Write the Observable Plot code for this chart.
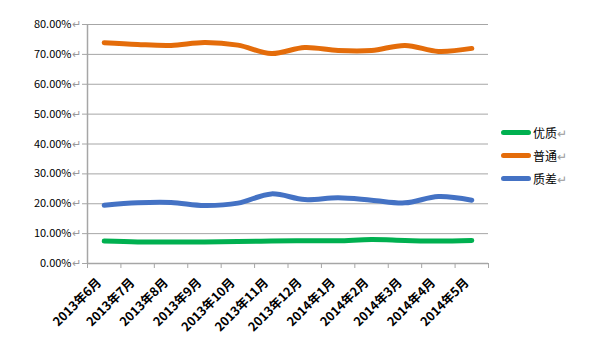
<!DOCTYPE html>
<html><head><meta charset="utf-8">
<script src="https://cdn.jsdelivr.net/npm/d3@7"></script>
<script src="https://cdn.jsdelivr.net/npm/@observablehq/plot@0.6"></script>
<style>
body{margin:0;background:#fff;}
#wrap{position:relative;width:612px;height:358px;}
.legend{position:absolute;left:501px;top:121px;font-family:"Noto Sans CJK SC",sans-serif;font-size:12px;color:#000;}
.item{display:flex;align-items:center;height:23px;}
.sw{width:30px;height:5px;border-radius:3px;margin-right:2px;}
.ret{color:#999;}
</style></head><body><div id="wrap"></div>
<script>
const months = ["2013年6月","2013年7月","2013年8月","2013年9月","2013年10月","2013年11月","2013年12月","2014年1月","2014年2月","2014年3月","2014年4月","2014年5月"];
const seriesNames = ["优质","普通","质差"];
const colors = ["#00b050","#e46c0a","#4472c4"];
const good   = [7.5, 7.2, 7.2, 7.2, 7.4, 7.5, 7.6, 7.6, 8.0, 7.7, 7.5, 7.7];
const normal = [73.9, 73.3, 73.0, 74.0, 73.1, 70.3, 72.3, 71.3, 71.3, 73.0, 71.0, 72.0];
const poor   = [19.5, 20.3, 20.4, 19.4, 20.2, 23.3, 21.4, 22.0, 21.2, 20.3, 22.4, 21.2];
const yTicks = [0, 0.1, 0.2, 0.3, 0.4, 0.5, 0.6, 0.7, 0.8];

const seriesValues = [good, normal, poor];
const data = seriesNames.flatMap((s, k) => seriesValues[k].map((v, i) => ({i, v: v / 100, s})));
const boundaries = d3.range(months.length + 1).map(k => k - 0.5);
const gray = "#a6a6a6";

const chart = Plot.plot({
  width: 612, height: 358,
  marginLeft: 87, marginRight: 124, marginTop: 24, marginBottom: 95,
  x: {type: "linear", domain: [-0.5, months.length - 0.5]},
  y: {domain: [0, 0.8]},
  color: {domain: seriesNames, range: colors},
  style: {fontFamily: "'Noto Sans CJK SC', sans-serif", background: "white", color: "#000"},
  marks: [
    Plot.gridY(yTicks, {stroke: gray, strokeOpacity: 1}),
    Plot.axisY(yTicks, {tickSize: 5, tickPadding: 2, tickFormat: d3.format(".2%"), stroke: gray, strokeOpacity: 1, fontSize: 11, label: null}),
    Plot.axisX(boundaries, {tickSize: 5, tickFormat: () => "", stroke: gray, strokeOpacity: 1, label: null}),
    Plot.axisX(d3.range(months.length), {tickSize: 0, tickPadding: 9, dx: -5, dy: 8, tickRotate: -45, tickFormat: i => months[i], fontSize: 12.5, fontWeight: "bold", label: null}),
    Plot.ruleX([-0.5], {stroke: gray, strokeWidth: 1.5}),
    Plot.ruleY([0], {stroke: gray, strokeWidth: 1.5}),
    Plot.line(data, {x: "i", y: "v", stroke: "s", strokeWidth: 5, curve: "catmull-rom", strokeLinecap: "round"})
  ]
});

const ns = "http://www.w3.org/2000/svg";
chart.querySelectorAll('g[aria-label="y-axis tick label"] text').forEach(t => {
  const ts = document.createElementNS(ns, "tspan");
  ts.textContent = "↵";
  ts.setAttribute("fill", "#999");
  t.appendChild(ts);
});
chart.querySelectorAll('g[aria-label="x-axis tick label"] text').forEach(t => t.setAttribute("font-weight", "bold"));

const wrap = document.getElementById("wrap");
wrap.appendChild(chart);

const legend = document.createElement("div");
legend.className = "legend";
seriesNames.forEach((s, k) => {
  const it = document.createElement("div");
  it.className = "item";
  it.innerHTML = `<span class="sw" style="background:${colors[k]}"></span><span>${s}</span><span class="ret">↵</span>`;
  legend.appendChild(it);
});
wrap.appendChild(legend);
</script></body></html>
